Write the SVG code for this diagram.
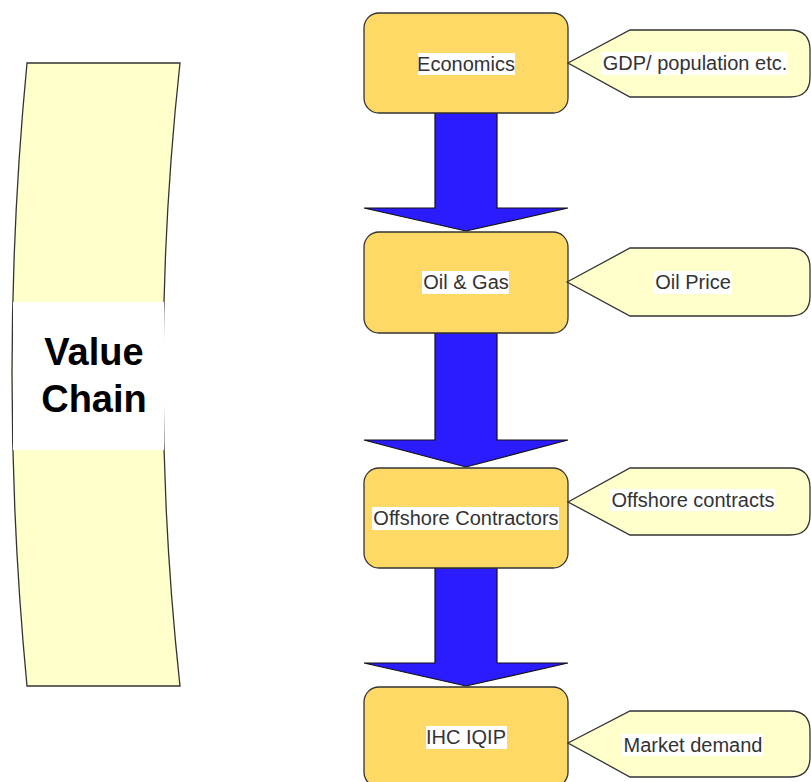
<svg xmlns="http://www.w3.org/2000/svg" width="811" height="782" viewBox="0 0 811 782">
  <style>
    .box { fill: #ffd966; stroke: #333333; stroke-width: 1.3; }
    .note { fill: #ffffcc; stroke: #333333; stroke-width: 1.3; }
    .flow { fill: #2b1bff; stroke: #111111; stroke-width: 1.2; }
    .lbl { font-family: "Liberation Sans", Arial, sans-serif; font-size: 20px; fill: #333333; text-anchor: middle; }
    .bg { fill: #ffffff; }
    .title { font-family: "Liberation Sans", Arial, sans-serif; font-size: 38px; font-weight: bold; fill: #000000; text-anchor: middle; }
  </style>

  <!-- Value chain band -->
  <g id="value-chain">
    <path d="M27,63 L180,63 Q146,374 180,686 L27,686 Q-3,374 27,63 Z" fill="#ffffcc" stroke="#333333" stroke-width="1.3"/>
    <rect class="bg" x="13" y="302" width="151" height="148"/>
    <text class="title" x="94" y="365">Value</text>
    <text class="title" x="94" y="412">Chain</text>
  </g>

  <!-- Flow arrows between stages -->
  <g id="connectors">
    <path class="flow" d="M435,113 L497,113 L497,208 L568,208 L466,231 L364,208 L435,208 Z"/>
    <path class="flow" d="M435,333 L497,333 L497,440 L568,440 L466,467 L364,440 L435,440 Z"/>
    <path class="flow" d="M435,568 L497,568 L497,663 L568,663 L466,686 L364,663 L435,663 Z"/>
  </g>

  <g id="economics">
    <rect class="box" x="364" y="13" width="204" height="100" rx="15"/>
    <rect class="bg" x="418" y="53" width="97" height="22"/>
    <text class="lbl" x="466" y="71">Economics</text>
  </g>
  <g id="gdp-note">
    <path class="note" d="M568,63 L630,30 L790,30 Q810,30 810,50 L810,77 Q810,97 790,97 L630,97 Z"/>
    <rect class="bg" x="602" y="52" width="186" height="23"/>
    <text class="lbl" x="695" y="70">GDP/ population etc.</text>
  </g>

  <g id="oil-gas">
    <rect class="box" x="364" y="232" width="204" height="101" rx="15"/>
    <rect class="bg" x="422" y="271" width="87" height="23"/>
    <text class="lbl" x="466" y="289">Oil &amp; Gas</text>
  </g>
  <g id="oil-price-note">
    <path class="note" d="M567,282 L630,248 L790,248 Q810,248 810,268 L810,296 Q810,316 790,316 L630,316 Z"/>
    <rect class="bg" x="654" y="271" width="78" height="23"/>
    <text class="lbl" x="693" y="289">Oil Price</text>
  </g>

  <g id="offshore-contractors">
    <rect class="box" x="364" y="468" width="204" height="100" rx="15"/>
    <rect class="bg" x="372" y="507" width="187" height="23"/>
    <text class="lbl" x="466" y="525">Offshore Contractors</text>
  </g>
  <g id="offshore-note">
    <path class="note" d="M568,502 L630,468 L790,468 Q810,468 810,488 L810,515 Q810,535 790,535 L630,535 Z"/>
    <rect class="bg" x="610" y="489" width="165" height="22"/>
    <text class="lbl" x="693" y="507">Offshore contracts</text>
  </g>

  <g id="ihc-iqip">
    <rect class="box" x="364" y="687" width="204" height="100" rx="15"/>
    <rect class="bg" x="426" y="726" width="81" height="23"/>
    <text class="lbl" x="466" y="744">IHC IQIP</text>
  </g>
  <g id="market-note">
    <path class="note" d="M568,743 L630,711 L790,711 Q810,711 810,731 L810,757 Q810,777 790,777 L630,777 Z"/>
    <rect class="bg" x="622" y="734" width="141" height="22"/>
    <text class="lbl" x="693" y="752">Market demand</text>
  </g>
</svg>
